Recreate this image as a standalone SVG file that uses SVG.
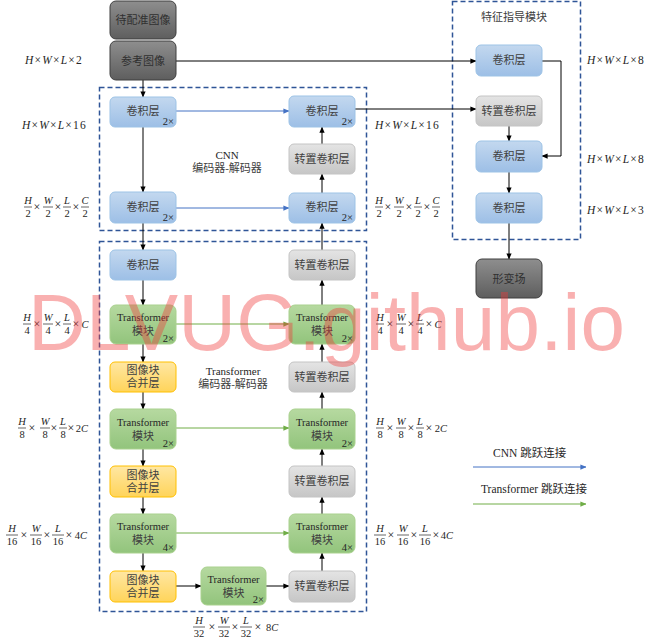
<svg xmlns="http://www.w3.org/2000/svg" width="651" height="644" viewBox="0 0 651 644">
<defs>
<linearGradient id="gBlue" x1="0" y1="0" x2="0" y2="1"><stop offset="0" stop-color="#c3d8ef"/><stop offset="1" stop-color="#9dbfe6"/></linearGradient>
<linearGradient id="gGray" x1="0" y1="0" x2="0" y2="1"><stop offset="0" stop-color="#e4e4e4"/><stop offset="1" stop-color="#c6c6c6"/></linearGradient>
<linearGradient id="gDark" x1="0" y1="0" x2="0" y2="1"><stop offset="0" stop-color="#8e8e8e"/><stop offset="1" stop-color="#5e5e5e"/></linearGradient>
<linearGradient id="gGreen" x1="0" y1="0" x2="0" y2="1"><stop offset="0" stop-color="#b6d9a0"/><stop offset="1" stop-color="#92c47c"/></linearGradient>
<linearGradient id="gOrange" x1="0" y1="0" x2="0" y2="1"><stop offset="0" stop-color="#ffe7a3"/><stop offset="1" stop-color="#ffd45a"/></linearGradient>
<marker id="aK" viewBox="0 0 8 8" refX="7.5" refY="4" markerWidth="6" markerHeight="6" orient="auto" markerUnits="userSpaceOnUse"><path d="M0,0.5 L8,4 L0,7.5 Z" fill="#000"/></marker>
<marker id="aB" viewBox="0 0 8 8" refX="7.5" refY="4" markerWidth="6" markerHeight="6" orient="auto" markerUnits="userSpaceOnUse"><path d="M0,0.5 L8,4 L0,7.5 Z" fill="#4472c4"/></marker>
<marker id="aG" viewBox="0 0 8 8" refX="7.5" refY="4" markerWidth="6" markerHeight="6" orient="auto" markerUnits="userSpaceOnUse"><path d="M0,0.5 L8,4 L0,7.5 Z" fill="#70ad47"/></marker>
</defs>
<style>
text{font-family:"Liberation Serif","Noto Sans CJK SC",serif;}
.blue{fill:url(#gBlue);stroke:#9dc3e6;stroke-width:1;}
.gray{fill:url(#gGray);stroke:#c4c4c4;stroke-width:1;}
.dark{fill:url(#gDark);stroke:#3f3f3f;stroke-width:1;}
.green{fill:url(#gGreen);stroke:#a9d18e;stroke-width:1;}
.orange{fill:url(#gOrange);stroke:#ffc000;stroke-width:1;}
.nt{font-size:11px;fill:#404040;text-anchor:middle;}
.ntd{font-size:11px;fill:#303030;text-anchor:middle;}
.tt{font-size:10.5px;fill:#262626;text-anchor:middle;}
.rep{font-size:10.5px;fill:#262626;text-anchor:end;}
.dash{fill:none;stroke:#2f5597;stroke-width:1.5;stroke-dasharray:5,3;}
.k{stroke:#000;stroke-width:1;fill:none;marker-end:url(#aK);}
.b{stroke:#4472c4;stroke-width:1;fill:none;marker-end:url(#aB);}
.g{stroke:#70ad47;stroke-width:1;fill:none;marker-end:url(#aG);}
.m{font-size:11.5px;fill:#262626;}
.dm{font-size:11.5px;fill:#262626;letter-spacing:1.2px;}
.i{font-style:italic;}
.fr{font-size:10.5px;fill:#262626;text-anchor:middle;}
.fx{font-size:12px;fill:#262626;text-anchor:middle;}
.bar{stroke:#262626;stroke-width:0.7;}
.lbl{font-size:11px;fill:#404040;text-anchor:middle;}
</style>

<!-- dashed module frames -->
<rect class="dash" x="99.5" y="87.5" width="267" height="143"/>
<rect class="dash" x="99.5" y="241.5" width="267" height="370"/>
<rect class="dash" x="452.5" y="1.5" width="128" height="238"/>

<g id="connectors">
<line class="k" x1="143" y1="80" x2="143" y2="97"/>
<line class="k" x1="143" y1="127" x2="143" y2="192"/>
<line class="k" x1="143" y1="223" x2="143" y2="250"/>
<line class="k" x1="143" y1="280" x2="143" y2="305"/>
<line class="k" x1="143" y1="344" x2="143" y2="362"/>
<line class="k" x1="143" y1="392" x2="143" y2="409"/>
<line class="k" x1="143" y1="449" x2="143" y2="466"/>
<line class="k" x1="143" y1="497" x2="143" y2="514"/>
<line class="k" x1="143" y1="553" x2="143" y2="571"/>
<line class="k" x1="176" y1="586" x2="201" y2="586"/>
<line class="k" x1="266" y1="586" x2="289" y2="586"/>
<line class="k" x1="322" y1="571" x2="322" y2="553"/>
<line class="k" x1="322" y1="514" x2="322" y2="497"/>
<line class="k" x1="322" y1="466" x2="322" y2="449"/>
<line class="k" x1="322" y1="409" x2="322" y2="392"/>
<line class="k" x1="322" y1="362" x2="322" y2="344"/>
<line class="k" x1="322" y1="305" x2="322" y2="280"/>
<line class="k" x1="322" y1="250" x2="322" y2="223"/>
<line class="k" x1="322" y1="193" x2="322" y2="174"/>
<line class="k" x1="322" y1="144" x2="322" y2="127"/>
<line class="k" x1="176" y1="61" x2="476" y2="61"/>
<line class="k" x1="355" y1="109" x2="476" y2="109"/>
<polyline class="k" points="542,61 561,61 561,156 542,156"/>
<line class="k" x1="509" y1="126" x2="509" y2="141"/>
<line class="k" x1="509" y1="172" x2="509" y2="193"/>
<line class="k" x1="509" y1="223" x2="509" y2="259"/>
<line class="b" x1="176" y1="111" x2="289" y2="111"/>
<line class="b" x1="176" y1="208" x2="289" y2="208"/>
<line class="g" x1="176" y1="324" x2="289" y2="324"/>
<line class="g" x1="176" y1="428" x2="289" y2="428"/>
<line class="g" x1="176" y1="533" x2="289" y2="533"/>
<line class="b" x1="473" y1="467" x2="586" y2="467"/>
<line class="g" x1="473" y1="504" x2="586" y2="504"/>
</g>

<g id="n_moving"><rect class="dark" x="110" y="1" width="66" height="38" rx="6"/><text class="ntd" x="143" y="24">待配准图像</text></g>
<g id="n_fixed"><rect class="dark" x="110" y="41" width="66" height="39" rx="6"/><text class="ntd" x="143" y="65">参考图像</text></g>

<g id="cnn_enc1"><rect class="blue" x="110" y="97" width="66" height="30" rx="5"/><text class="nt" x="143" y="115">卷积层</text><text class="rep" x="174" y="125">2×</text></g>
<g id="cnn_enc2"><rect class="blue" x="110" y="192" width="66" height="31" rx="5"/><text class="nt" x="143" y="211">卷积层</text><text class="rep" x="174" y="221">2×</text></g>
<g id="cnn_dec1"><rect class="blue" x="289" y="96" width="66" height="31" rx="5"/><text class="nt" x="322" y="115">卷积层</text><text class="rep" x="353" y="125">2×</text></g>
<g id="cnn_up"><rect class="gray" x="289" y="144" width="66" height="30" rx="5"/><text class="nt" x="322" y="163">转置卷积层</text></g>
<g id="cnn_dec2"><rect class="blue" x="289" y="193" width="66" height="30" rx="5"/><text class="nt" x="322" y="211">卷积层</text><text class="rep" x="353" y="221">2×</text></g>
<g id="cnn_label"><text class="lbl" x="227" y="159" style="fill:#262626">CNN</text><text class="lbl" x="227" y="172">编码器-解码器</text></g>

<g id="t_conv"><rect class="blue" x="110" y="250" width="66" height="30" rx="5"/><text class="nt" x="143" y="269">卷积层</text></g>
<g id="t_enc1"><rect class="green" x="110" y="305" width="66" height="39" rx="6"/><text class="tt" x="143" y="321">Transformer</text><text class="nt" x="143" y="335">模块</text><text class="rep" x="174" y="342">2×</text></g>
<g id="t_merge1"><rect class="orange" x="110" y="362" width="66" height="30" rx="5"/><text class="nt" x="143" y="374">图像块</text><text class="nt" x="143" y="387">合并层</text></g>
<g id="t_enc2"><rect class="green" x="110" y="409" width="66" height="40" rx="6"/><text class="tt" x="143" y="426">Transformer</text><text class="nt" x="143" y="440">模块</text><text class="rep" x="174" y="447">2×</text></g>
<g id="t_merge2"><rect class="orange" x="110" y="466" width="66" height="31" rx="5"/><text class="nt" x="143" y="479">图像块</text><text class="nt" x="143" y="492">合并层</text></g>
<g id="t_enc3"><rect class="green" x="110" y="514" width="66" height="39" rx="6"/><text class="tt" x="143" y="530">Transformer</text><text class="nt" x="143" y="544">模块</text><text class="rep" x="174" y="551">4×</text></g>
<g id="t_merge3"><rect class="orange" x="110" y="571" width="66" height="31" rx="5"/><text class="nt" x="143" y="584">图像块</text><text class="nt" x="143" y="597">合并层</text></g>
<g id="t_bottleneck"><rect class="green" x="201" y="567" width="65" height="38" rx="6"/><text class="tt" x="233.5" y="583">Transformer</text><text class="nt" x="233.5" y="597">模块</text><text class="rep" x="264" y="603">2×</text></g>
<g id="t_up4"><rect class="gray" x="289" y="571" width="66" height="31" rx="5"/><text class="nt" x="322" y="590">转置卷积层</text></g>
<g id="t_dec3"><rect class="green" x="289" y="514" width="66" height="39" rx="6"/><text class="tt" x="322" y="530">Transformer</text><text class="nt" x="322" y="544">模块</text><text class="rep" x="353" y="551">4×</text></g>
<g id="t_up3"><rect class="gray" x="289" y="466" width="66" height="31" rx="5"/><text class="nt" x="322" y="485">转置卷积层</text></g>
<g id="t_dec2"><rect class="green" x="289" y="409" width="66" height="40" rx="6"/><text class="tt" x="322" y="426">Transformer</text><text class="nt" x="322" y="440">模块</text><text class="rep" x="353" y="447">2×</text></g>
<g id="t_up2"><rect class="gray" x="289" y="362" width="66" height="30" rx="5"/><text class="nt" x="322" y="381">转置卷积层</text></g>
<g id="t_dec1"><rect class="green" x="289" y="305" width="66" height="39" rx="6"/><text class="tt" x="322" y="321">Transformer</text><text class="nt" x="322" y="335">模块</text><text class="rep" x="353" y="342">2×</text></g>
<g id="t_up1"><rect class="gray" x="289" y="250" width="66" height="30" rx="5"/><text class="nt" x="322" y="269">转置卷积层</text></g>
<g id="t_label"><text class="lbl" x="233" y="375" style="fill:#262626">Transformer</text><text class="lbl" x="233" y="388">编码器-解码器</text></g>

<g id="f_title"><text class="lbl" x="514" y="21">特征指导模块</text></g>
<g id="f_conv1"><rect class="blue" x="476" y="45" width="66" height="31" rx="5"/><text class="nt" x="509" y="64">卷积层</text></g>
<g id="f_up"><rect class="gray" x="476" y="96" width="66" height="30" rx="5"/><text class="nt" x="509" y="115">转置卷积层</text></g>
<g id="f_conv2"><rect class="blue" x="476" y="141" width="66" height="31" rx="5"/><text class="nt" x="509" y="160">卷积层</text></g>
<g id="f_conv3"><rect class="blue" x="476" y="193" width="66" height="30" rx="5"/><text class="nt" x="509" y="212">卷积层</text></g>
<g id="deform"><rect class="dark" x="476" y="259" width="66" height="39" rx="6"/><text class="ntd" x="509" y="283">形变场</text></g>

<g id="legend">
<text class="m" x="493" y="457">CNN 跳跃连接</text>
<text class="m" x="481" y="493">Transformer  跳跃连接</text>
</g>

<g id="dims">
<text class="dm" x="25" y="64"><tspan class="i">H</tspan>×<tspan class="i">W</tspan>×<tspan class="i">L</tspan>×2</text>
<text class="dm" x="22" y="129"><tspan class="i">H</tspan>×<tspan class="i">W</tspan>×<tspan class="i">L</tspan>×16</text>
<text class="dm" x="375" y="129"><tspan class="i">H</tspan>×<tspan class="i">W</tspan>×<tspan class="i">L</tspan>×16</text>
<text class="dm" x="587" y="64"><tspan class="i">H</tspan>×<tspan class="i">W</tspan>×<tspan class="i">L</tspan>×8</text>
<text class="dm" x="587" y="163"><tspan class="i">H</tspan>×<tspan class="i">W</tspan>×<tspan class="i">L</tspan>×8</text>
<text class="dm" x="587" y="214"><tspan class="i">H</tspan>×<tspan class="i">W</tspan>×<tspan class="i">L</tspan>×3</text>

<!-- left CNN fraction, bar 207 -->
<g>
<text class="fr i" x="28" y="204">H</text><line class="bar" x1="24" y1="207" x2="32" y2="207"/><text class="fr" x="28" y="217">2</text>
<text class="fx" x="37" y="211">×</text>
<text class="fr i" x="48" y="204">W</text><line class="bar" x1="43" y1="207" x2="53" y2="207"/><text class="fr" x="48" y="217">2</text>
<text class="fx" x="58" y="211">×</text>
<text class="fr i" x="67" y="204">L</text><line class="bar" x1="63" y1="207" x2="71" y2="207"/><text class="fr" x="67" y="217">2</text>
<text class="fx" x="76" y="211">×</text>
<text class="fr i" x="85" y="204">C</text><line class="bar" x1="81" y1="207" x2="89" y2="207"/><text class="fr" x="85" y="217">2</text>
</g>
<!-- right CNN fraction -->
<g>
<text class="fr i" x="379" y="204">H</text><line class="bar" x1="375" y1="207" x2="383" y2="207"/><text class="fr" x="379" y="217">2</text>
<text class="fx" x="388" y="211">×</text>
<text class="fr i" x="399" y="204">W</text><line class="bar" x1="394" y1="207" x2="404" y2="207"/><text class="fr" x="399" y="217">2</text>
<text class="fx" x="409" y="211">×</text>
<text class="fr i" x="418" y="204">L</text><line class="bar" x1="414" y1="207" x2="422" y2="207"/><text class="fr" x="418" y="217">2</text>
<text class="fx" x="427" y="211">×</text>
<text class="fr i" x="436" y="204">C</text><line class="bar" x1="432" y1="207" x2="440" y2="207"/><text class="fr" x="436" y="217">2</text>
</g>
<!-- left T1, bar 324 -->
<g>
<text class="fr i" x="27" y="321">H</text><line class="bar" x1="23" y1="324" x2="31" y2="324"/><text class="fr" x="27" y="334">4</text>
<text class="fx" x="37" y="328">×</text>
<text class="fr i" x="48" y="321">W</text><line class="bar" x1="43" y1="324" x2="53" y2="324"/><text class="fr" x="48" y="334">4</text>
<text class="fx" x="58" y="328">×</text>
<text class="fr i" x="67" y="321">L</text><line class="bar" x1="63" y1="324" x2="71" y2="324"/><text class="fr" x="67" y="334">4</text>
<text class="fx" x="76" y="328">×</text>
<text class="fr i" x="85" y="328">C</text>
</g>
<!-- right T1 -->
<g>
<text class="fr i" x="380" y="321">H</text><line class="bar" x1="376" y1="324" x2="384" y2="324"/><text class="fr" x="380" y="334">4</text>
<text class="fx" x="390" y="328">×</text>
<text class="fr i" x="401" y="321">W</text><line class="bar" x1="396" y1="324" x2="406" y2="324"/><text class="fr" x="401" y="334">4</text>
<text class="fx" x="411" y="328">×</text>
<text class="fr i" x="420" y="321">L</text><line class="bar" x1="416" y1="324" x2="424" y2="324"/><text class="fr" x="420" y="334">4</text>
<text class="fx" x="429" y="328">×</text>
<text class="fr i" x="438" y="328">C</text>
</g>
<!-- left T2, bar 428 -->
<g>
<text class="fr i" x="22" y="425">H</text><line class="bar" x1="18" y1="428" x2="26" y2="428"/><text class="fr" x="22" y="438">8</text>
<text class="fx" x="32" y="432">×</text>
<text class="fr i" x="45" y="425">W</text><line class="bar" x1="40" y1="428" x2="50" y2="428"/><text class="fr" x="45" y="438">8</text>
<text class="fx" x="54" y="432">×</text>
<text class="fr i" x="63" y="425">L</text><line class="bar" x1="59" y1="428" x2="67" y2="428"/><text class="fr" x="63" y="438">8</text>
<text class="fx" x="71" y="432">×</text>
<text class="fr" x="82" y="432">2<tspan class="i">C</tspan></text>
</g>
<!-- right T2 -->
<g>
<text class="fr i" x="380" y="425">H</text><line class="bar" x1="376" y1="428" x2="384" y2="428"/><text class="fr" x="380" y="438">8</text>
<text class="fx" x="390" y="432">×</text>
<text class="fr i" x="401" y="425">W</text><line class="bar" x1="396" y1="428" x2="406" y2="428"/><text class="fr" x="401" y="438">8</text>
<text class="fx" x="411" y="432">×</text>
<text class="fr i" x="420" y="425">L</text><line class="bar" x1="416" y1="428" x2="424" y2="428"/><text class="fr" x="420" y="438">8</text>
<text class="fx" x="429" y="432">×</text>
<text class="fr" x="441" y="432">2<tspan class="i">C</tspan></text>
</g>
<!-- left T3, bar 535 -->
<g>
<text class="fr i" x="12" y="532">H</text><line class="bar" x1="6" y1="535" x2="18" y2="535"/><text class="fr" x="12" y="545">16</text>
<text class="fx" x="24" y="539">×</text>
<text class="fr i" x="36" y="532">W</text><line class="bar" x1="30" y1="535" x2="42" y2="535"/><text class="fr" x="36" y="545">16</text>
<text class="fx" x="47" y="539">×</text>
<text class="fr i" x="58" y="532">L</text><line class="bar" x1="52" y1="535" x2="64" y2="535"/><text class="fr" x="58" y="545">16</text>
<text class="fx" x="69" y="539">×</text>
<text class="fr" x="81" y="539">4<tspan class="i">C</tspan></text>
</g>
<!-- right T3 -->
<g>
<text class="fr i" x="380" y="532">H</text><line class="bar" x1="374" y1="535" x2="386" y2="535"/><text class="fr" x="380" y="545">16</text>
<text class="fx" x="391" y="539">×</text>
<text class="fr i" x="403" y="532">W</text><line class="bar" x1="397" y1="535" x2="409" y2="535"/><text class="fr" x="403" y="545">16</text>
<text class="fx" x="414" y="539">×</text>
<text class="fr i" x="425" y="532">L</text><line class="bar" x1="419" y1="535" x2="431" y2="535"/><text class="fr" x="425" y="545">16</text>
<text class="fx" x="436" y="539">×</text>
<text class="fr" x="447" y="539">4<tspan class="i">C</tspan></text>
</g>
<!-- bottom, bar 627 -->
<g>
<text class="fr i" x="199" y="624">H</text><line class="bar" x1="193" y1="627" x2="205" y2="627"/><text class="fr" x="199" y="637">32</text>
<text class="fx" x="212" y="631">×</text>
<text class="fr i" x="224" y="624">W</text><line class="bar" x1="218" y1="627" x2="230" y2="627"/><text class="fr" x="224" y="637">32</text>
<text class="fx" x="235" y="631">×</text>
<text class="fr i" x="246" y="624">L</text><line class="bar" x1="240" y1="627" x2="252" y2="627"/><text class="fr" x="246" y="637">32</text>
<text class="fx" x="258" y="631">×</text>
<text class="fr" x="266" y="631" style="text-anchor:start">8<tspan class="i">C</tspan></text>
</g>
</g>

<g id="watermark"><text x="28" y="350" textLength="597" lengthAdjust="spacing" style="font-family:'Liberation Sans',sans-serif;font-size:80px;fill:#f03a3a;fill-opacity:0.4">DLVUG.github.io</text></g>
</svg>
